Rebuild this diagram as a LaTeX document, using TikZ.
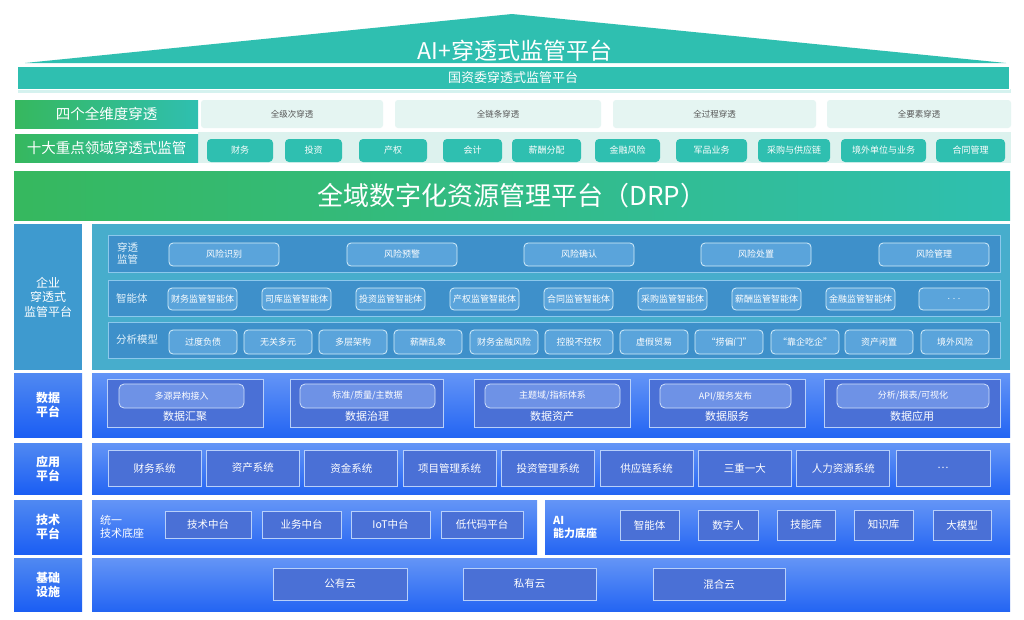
\documentclass[tikz,border=0pt]{standalone}
\usepackage{fontspec}
\setmainfont{Noto Sans CJK SC}
\definecolor{cteal}{HTML}{2FBFB0}
\definecolor{cgreen}{HTML}{36B85E}
\definecolor{ccell}{HTML}{E5F5F2}
\definecolor{cstrip}{HTML}{DDF2EE}
\definecolor{cgraytxt}{HTML}{555555}
\definecolor{centl}{HTML}{3E9ACF}
\definecolor{centp}{HTML}{47ADCC}
\definecolor{crow}{HTML}{3E90CA}
\definecolor{crowb}{HTML}{8CC8EC}
\definecolor{cebtn}{HTML}{5AA4DB}
\definecolor{cebtnb}{HTML}{D5EEFA}
\definecolor{clbltop}{HTML}{5089F2}
\definecolor{clblbot}{HTML}{1B5EF3}
\definecolor{cpantop}{HTML}{6495F6}
\definecolor{cpanbot}{HTML}{2465F3}
\definecolor{cibox}{HTML}{4A70D6}
\definecolor{ciboxb}{HTML}{B8D0FA}
\definecolor{cpill}{HTML}{6E92E6}
\definecolor{cpillb}{HTML}{D0E0FA}
\definecolor{clabtxt}{HTML}{E3F2FB}
\newcommand{\fsz}[2]{\fontsize{#1}{#2}\selectfont}
\newcommand{\bx}[7]{\node[#6, minimum width={((#4)-(#2))*1pt}, minimum height={((#5)-(#3))*1pt}] (#1) at ({((#2)+(#4))/2},{((#3)+(#5))/2}) {#7};}
\tikzset{
 base/.style={inner sep=0pt, outer sep=0pt, text=white, align=center},
 glbl/.style={base, left color=cgreen, right color=cteal, font=\fsz{14.5}{16}},
 cell/.style={base, fill=ccell, rounded corners=3pt, text=cgraytxt, font=\fsz{8.5}{10}},
 tbtn/.style={base, fill=cteal, rounded corners=4pt, font=\fsz{9}{10}},
 entrow/.style={base, fill=crow, draw=crowb, line width=0.7pt},
 ebtn/.style={base, fill=cebtn, draw=cebtnb, line width=0.8pt, rounded corners=4pt, font=\fsz{9}{10}},
 rowlbl/.style={base, text=clabtxt, align=left, font=\fsz{10.5}{12}},
 blbl/.style={base, top color=clbltop, bottom color=clblbot, font=\fsz{12}{14}\bfseries},
 bpanel/.style={base, top color=cpantop, bottom color=cpanbot},
 ibox/.style={base, fill=cibox, draw=ciboxb, line width=0.8pt, font=\fsz{10.5}{12}},
 pill/.style={base, fill=cpill, draw=cpillb, line width=0.8pt, rounded corners=5pt, font=\fsz{9}{10}},
 dlab/.style={base, font=\fsz{11}{12}},
}
\begin{document}
\begin{tikzpicture}[x=1pt,y=-1pt]
\useasboundingbox (0,0) rectangle (1024,619);
\fill[white] (0,0) rectangle (1024,619);
% roof
\fill[cteal] (25,63) -- (512,14) -- (1006,63) -- cycle;
\node[base, font=\fsz{23}{25}] (title) at (515,51) {AI+穿透式监管平台};
\fill[cteal!20] (18,89) rectangle (1011,93);
\bx{band}{17}{66}{1009}{89}{base, fill=cteal, draw=white, line width=0.6pt, font=\fsz{13}{15}}{国资委穿透式监管平台}
% four dimensions
\bx{dimL}{15}{100}{198}{128}{glbl}{四个全维度穿透}
\bx{dim1}{201}{100}{383}{128}{cell}{全级次穿透}
\bx{dim2}{395}{100}{601}{128}{cell}{全链条穿透}
\bx{dim3}{613}{100}{816}{128}{cell}{全过程穿透}
\bx{dim4}{827}{100}{1011}{128}{cell}{全要素穿透}
% ten domains
\bx{tenS}{198}{132}{1011}{163}{base, fill=cstrip}{}
\bx{tenL}{15}{134}{198}{162}{glbl}{十大重点领域穿透式监管}
\foreach \a/\b/\t [count=\i] in {207/273/财务,285/342/投资,359/427/产权,443/502/会计,512/581/薪酬分配,595/660/金融风险,676/747/军品业务,758/830/采购与供应链,841/926/境外单位与业务,936/1005/合同管理}
 {\bx{ten\i}{\a}{139}{\b}{162}{tbtn}{\t}}
% DRP
\bx{drp}{14}{171}{1010}{220}{base, left color=cgreen, middle color=cteal, right color=cteal, font=\fsz{26}{28}}{全域数字化资源管理平台（DRP）}
% enterprise
\bx{entL}{14}{224}{82}{370}{base, fill=centl, font=\fsz{12}{14.5}}{企业\\穿透式\\监管平台}
\bx{entP}{92}{224}{1010}{370}{base, fill=centp}{}
\bx{row1}{108}{235}{1000}{272}{entrow}{}
\bx{row2}{108}{280}{1000}{316}{entrow}{}
\bx{row3}{108}{322}{1000}{358}{entrow}{}
\node[rowlbl, anchor=west] (row1L) at (117,253.5) {穿透\\监管};
\node[rowlbl, anchor=west] (row2L) at (116,298) {智能体};
\node[rowlbl, anchor=west] (row3L) at (116,340) {分析模型};
\foreach \a/\t [count=\i] in {169/风险识别,347/风险预警,524/风险确认,701/风险处置,879/风险管理}
 {\bx{risk\i}{\a}{243}{\a+110}{266}{ebtn}{\t}}
\foreach \a/\t [count=\i] in {168/财务监管智能体,262/司库监管智能体,356/投资监管智能体,450/产权监管智能体,544/合同监管智能体,638/采购监管智能体,732/薪酬监管智能体,826/金融监管智能体}
 {\bx{agent\i}{\a}{288}{\a+69}{310}{ebtn}{\t}}
\bx{agent9}{919}{288}{989}{310}{ebtn, text=clabtxt!70}{. . .}
\foreach \a/\t [count=\i] in {169/过度负债,244/无关多元,319/多层架构,394/薪酬乱象,470/财务金融风险,545/控股不控权,620/虚假贸易,695/“捞偏门”,771/“靠企吃企”,845/资产闲置,921/境外风险}
 {\bx{model\i}{\a}{330}{\a+68}{354}{ebtn}{\t}}
% data platform
\bx{dataL}{14}{373}{82}{437}{blbl}{数据\\平台}
\bx{dataP}{92}{373}{1010}{437}{bpanel}{}
\bx{d1}{107}{379}{263}{427}{ibox}{}
\bx{d2}{290}{379}{443}{427}{ibox}{}
\bx{d3}{474}{379}{630}{427}{ibox}{}
\bx{d4}{649}{379}{805}{427}{ibox}{}
\bx{d5}{824}{379}{1000}{427}{ibox}{}
\bx{p1}{119}{384}{244}{408}{pill}{多源异构接入}
\bx{p2}{300}{384}{435}{408}{pill}{标准/质量/主数据}
\bx{p3}{485}{384}{620}{408}{pill}{主题域/指标体系}
\bx{p4}{660}{384}{791}{408}{pill}{API/服务发布}
\bx{p5}{837}{384}{989}{408}{pill}{分析/报表/可视化}
\node[dlab] (l1) at (185,416.5) {数据汇聚};
\node[dlab] (l2) at (367,416.5) {数据治理};
\node[dlab] (l3) at (552,416.5) {数据资产};
\node[dlab] (l4) at (727,416.5) {数据服务};
\node[dlab] (l5) at (912,416.5) {数据应用};
% application platform
\bx{appL}{14}{443}{82}{494}{blbl}{应用\\平台}
\bx{appP}{92}{443}{1010}{494}{bpanel}{}
\foreach \t [count=\i] in {财务系统,资产系统,资金系统,项目管理系统,投资管理系统,供应链系统,三重一大,人力资源系统}
 {\bx{app\i}{108+(\i-1)*98.4}{450}{201+(\i-1)*98.4}{486}{ibox}{\t}}
\bx{app9}{896}{450}{990}{486}{ibox}{…}
% tech platform
\bx{techL}{14}{500}{82}{554}{blbl}{技术\\平台}
\bx{techA}{92}{500}{537}{554}{bpanel}{}
\bx{techB}{545}{500}{1010}{554}{bpanel}{}
\node[base, align=left, anchor=west, font=\fsz{11}{13}] (techAL) at (100,527) {统一\\技术底座};
\node[base, align=left, anchor=west, font=\fsz{11}{13}\bfseries] (techBL) at (553,527) {AI\\能力底座};
\bx{t1}{165}{511}{251}{538}{ibox}{技术中台}
\bx{t2}{262}{511}{341}{538}{ibox}{业务中台}
\bx{t3}{351}{511}{430}{538}{ibox}{IoT中台}
\bx{t4}{441}{511}{523}{538}{ibox}{低代码平台}
\bx{a1}{620}{510}{679}{540}{ibox}{智能体}
\bx{a2}{698}{510}{758}{540}{ibox}{数字人}
\bx{a3}{777}{510}{835}{540}{ibox}{技能库}
\bx{a4}{854}{510}{913}{540}{ibox}{知识库}
\bx{a5}{933}{510}{991}{540}{ibox}{大模型}
% infrastructure
\bx{infL}{14}{558}{82}{611}{blbl}{基础\\设施}
\bx{infP}{92}{558}{1010}{611}{bpanel}{}
\bx{c1}{273}{568}{407}{600}{ibox}{公有云}
\bx{c2}{463}{568}{596}{600}{ibox}{私有云}
\bx{c3}{653}{568}{785}{600}{ibox}{混合云}
\end{tikzpicture}
\end{document}
